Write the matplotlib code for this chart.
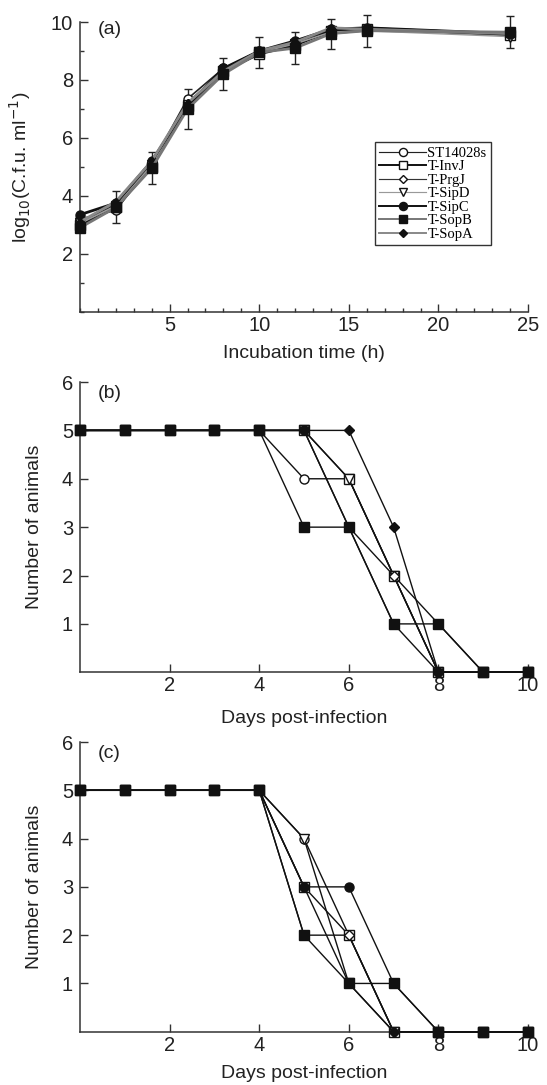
import matplotlib.pyplot as plt
from matplotlib.ticker import MultipleLocator, FixedLocator
from matplotlib.lines import Line2D
import numpy as np

plt.rcParams['font.family'] = ['Liberation Sans', 'DejaVu Sans']

strains = ['ST14028s', 'T-InvJ', 'T-PrgJ', 'T-SipD', 'T-SipC', 'T-SopB', 'T-SopA']
markers = ['o', 's', 'D', 'v', 'o', 's', 'D']
filled = [False, False, False, False, True, True, True]
colors_a = ['#222222', '#111111', '#333333', '#999999', '#111111', '#777777', '#888888']

# (a) growth curves
hours = [0, 2, 4, 6, 8, 10, 12, 14, 16, 24]
growth = {
    'ST14028s': [3.2, 3.5, 5.1, 7.35, 8.4, 9.0, 9.3, 9.6, 9.7, 9.6],
    'T-InvJ':   [3.0, 3.6, 5.0, 7.1, 8.3, 8.9, 9.2, 9.7, 9.75, 9.55],
    'T-PrgJ':   [3.1, 3.7, 5.1, 7.2, 8.35, 9.0, 9.3, 9.75, 9.8, 9.6],
    'T-SipD':   [3.05, 3.65, 5.05, 7.15, 8.3, 8.95, 9.25, 9.65, 9.7, 9.5],
    'T-SipC':   [3.35, 3.75, 5.2, 7.1, 8.4, 9.0, 9.35, 9.75, 9.8, 9.6],
    'T-SopB':   [2.9, 3.6, 4.95, 7.0, 8.2, 8.95, 9.1, 9.6, 9.7, 9.65],
    'T-SopA':   [3.1, 3.8, 5.2, 7.2, 8.3, 9.0, 9.3, 9.8, 9.75, 9.6],
}
growth_err = [0.0, 0.55, 0.55, 0.7, 0.55, 0.52, 0.55, 0.52, 0.55, 0.55]

# (b), (c) survival
days = [0, 1, 2, 3, 4, 5, 6, 7, 8, 9, 10]
surv_b = {
    'ST14028s': [5, 5, 5, 5, 5, 4, 4, 2, 0, 0, 0],
    'T-InvJ':   [5, 5, 5, 5, 5, 5, 4, 2, 0, 0, 0],
    'T-PrgJ':   [5, 5, 5, 5, 5, 5, 3, 2, 1, 0, 0],
    'T-SipD':   [5, 5, 5, 5, 5, 5, 4, 2, 0, 0, 0],
    'T-SipC':   [5, 5, 5, 5, 5, 5, 3, 1, 0, 0, 0],
    'T-SopB':   [5, 5, 5, 5, 5, 3, 3, 1, 1, 0, 0],
    'T-SopA':   [5, 5, 5, 5, 5, 5, 5, 3, 0, 0, 0],
}
surv_c = {
    'ST14028s': [5, 5, 5, 5, 5, 4, 2, 0, 0, 0, 0],
    'T-InvJ':   [5, 5, 5, 5, 5, 3, 2, 0, 0, 0, 0],
    'T-PrgJ':   [5, 5, 5, 5, 5, 2, 2, 0, 0, 0, 0],
    'T-SipD':   [5, 5, 5, 5, 5, 4, 1, 0, 0, 0, 0],
    'T-SipC':   [5, 5, 5, 5, 5, 3, 3, 1, 0, 0, 0],
    'T-SopB':   [5, 5, 5, 5, 5, 2, 1, 1, 0, 0, 0],
    'T-SopA':   [5, 5, 5, 5, 5, 3, 1, 0, 0, 0, 0],
}

fig = plt.figure(figsize=(5.47, 10.85), dpi=100)
ax_a = fig.add_axes([0.1463, 0.7127, 0.819, 0.267])
ax_b = fig.add_axes([0.1463, 0.3804, 0.819, 0.2675])
ax_c = fig.add_axes([0.1463, 0.0491, 0.819, 0.2670])

axis_col = '#333333'
txt_col = '#222222'
lab_size = 14


def style(ax):
    for s in ['top', 'right']:
        ax.spines[s].set_visible(False)
    for s in ['left', 'bottom']:
        ax.spines[s].set_color(axis_col)
        ax.spines[s].set_linewidth(1.1)
    ax.tick_params(which='both', direction='in', color=axis_col, width=1.0,
                   labelsize=14.5, labelcolor=txt_col)
    ax.tick_params(which='major', length=6)
    ax.tick_params(which='minor', length=3)
    ax.tick_params(axis='x', pad=3)
    ax.tick_params(axis='y', pad=5)


# ---- panel (a)
handles = []
for i, name in enumerate(strains):
    mfc = '#111111' if filled[i] else 'white'
    ms = 4.5 if markers[i] == 'D' else 6.5
    lw = 1.2 if i in (0, 2, 3) else 2.0
    if name == 'T-SopB':
        ax_a.errorbar(hours, growth[name], yerr=growth_err, fmt='none',
                      ecolor='#222222', elinewidth=1.0, capsize=3, capthick=1.0,
                      clip_on=False, zorder=2)
    ln, = ax_a.plot(hours, growth[name], color=colors_a[i], marker=markers[i],
                    mfc=mfc, mec='#111111', ms=ms, lw=lw, label=name,
                    clip_on=False, zorder=3 + (i == 5))
    handles.append(Line2D([], [], color=colors_a[i], marker=markers[i],
                          mfc=mfc, mec='#111111', ms=ms * 0.9, lw=lw * 0.7))
ax_a.set_xlim(0, 25)
ax_a.set_ylim(0, 10)
ax_a.xaxis.set_major_locator(FixedLocator([5, 10, 15, 20, 25]))
ax_a.xaxis.set_minor_locator(MultipleLocator(1))
ax_a.yaxis.set_major_locator(FixedLocator([2, 4, 6, 8, 10]))
ax_a.yaxis.set_minor_locator(MultipleLocator(1))
style(ax_a)
ax_a.set_xlabel('Incubation time (h)', fontsize=lab_size, color=txt_col)
ax_a.set_ylabel(r'log$_{10}$(C.f.u. ml$^{-1}$)', fontsize=lab_size, color=txt_col)
ax_a.xaxis.set_label_coords(0.5, -0.115)
ax_a.yaxis.set_label_coords(-0.105, 0.5)
ax_a.text(0.04, 0.975, '(a)', transform=ax_a.transAxes, fontsize=lab_size,
          va='center', ha='left', color=txt_col)
leg = ax_a.legend(handles, strains, loc='upper left',
                  bbox_to_anchor=(0.658, 0.585),
                  prop={'family': 'Liberation Serif', 'size': 10.5},
                  frameon=True, fancybox=False, edgecolor='#333333',
                  framealpha=1, handlelength=3.2, handletextpad=0.1,
                  labelspacing=0.02, borderpad=0.3, borderaxespad=0)
leg.get_frame().set_linewidth(1.0)


# ---- panels (b), (c)
def survival(ax, data, tag):
    order = [0, 1, 3, 2, 4, 6, 5]
    for i in order:
        name = strains[i]
        mfc = '#111111' if filled[i] else 'white'
        ms = 5 if markers[i] == 'D' else 6.5
        ax.plot(days, data[name], color='#111111', lw=1.0, marker=markers[i],
                mfc=mfc, mec='#111111', ms=ms, clip_on=False,
                zorder=3 + order.index(i) * 0.1)
    ax.set_xlim(0, 10)
    ax.set_ylim(0, 6)
    ax.xaxis.set_major_locator(FixedLocator([2, 4, 6, 8, 10]))
    ax.yaxis.set_major_locator(FixedLocator([1, 2, 3, 4, 5, 6]))
    style(ax)
    ax.set_xlabel('Days post-infection', fontsize=lab_size, color=txt_col)
    ax.set_ylabel('Number of animals', fontsize=lab_size, color=txt_col)
    ax.yaxis.set_label_coords(-0.083, 0.5)
    ax.text(0.04, 0.96, tag, transform=ax.transAxes, fontsize=lab_size,
            va='center', ha='left', color=txt_col)


survival(ax_b, surv_b, '(b)')
ax_b.xaxis.set_label_coords(0.5, -0.13)
survival(ax_c, surv_c, '(c)')
ax_c.xaxis.set_label_coords(0.5, -0.115)

fig.savefig('out.png', dpi=100)
